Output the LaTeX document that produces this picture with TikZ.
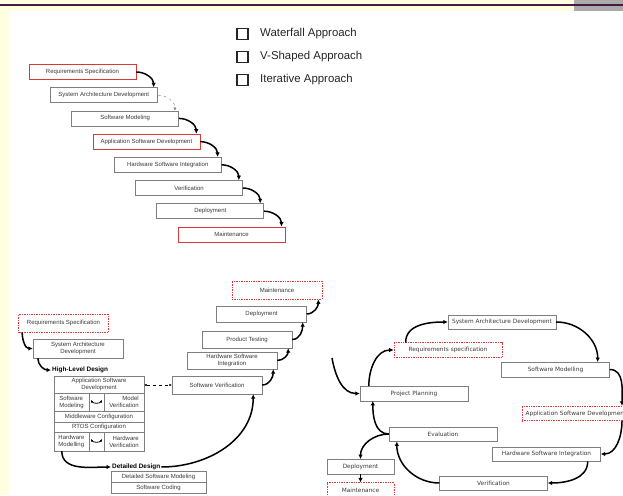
\documentclass[tikz,border=0pt]{standalone}
\usepackage{fontspec}
\setmainfont{Liberation Sans}
\newfontfamily\iterfont{DejaVu Sans}
\usetikzlibrary{arrows.meta,positioning}
\definecolor{paper}{HTML}{FFFFE0}
\definecolor{rulebar}{HTML}{4A1A46}
\definecolor{tabgray}{HTML}{ABABAB}
\definecolor{frame}{HTML}{7F7F7F}
\definecolor{mark}{HTML}{D83A3A}
\definecolor{txt}{HTML}{3A3A3A}

\begin{document}
\begin{tikzpicture}[x=1pt,y=1pt,>=Latex,
  small/.style={font=\fontsize{6}{7}\selectfont,text=txt},
  stage/.style={small,draw=frame,fill=white,minimum width=107pt,minimum height=15pt,inner sep=0pt,align=center},
  vstage/.style={stage,minimum width=90pt,minimum height=18pt},
  istage/.style={draw=frame,fill=white,text=txt,minimum width=108pt,minimum height=14.5pt,inner sep=0pt,font=\iterfont\fontsize{5.8}{7}\selectfont},
  redline/.style={draw=mark,densely dotted,line width=0.7pt},
  flow/.style={line width=1.5pt,-{Latex[length=4.5pt,width=4.5pt]}},
  checkbox/.style={draw=black!85,line width=1.4pt,minimum size=11pt,inner sep=0pt}]
\useasboundingbox (0,0) rectangle (623,495);
\clip (0,0) rectangle (623,495);
% slide background
\fill[paper] (0,0) rectangle (623,495);
\fill[white] (9,0) rectangle (623,484);
\fill[tabgray] (574,484) rectangle (623,495);
\fill[rulebar] (0,489) rectangle (623,491);

% legend
\node[checkbox] (kwf) at (242.5,461) {};
\node[checkbox] (kvs) at (242.5,438) {};
\node[checkbox] (kit) at (242.5,415) {};
\node[right=8pt of kwf,font=\fontsize{11.4}{13}\selectfont,text=black!85] (lwf) {Waterfall Approach};
\node[right=8pt of kvs,font=\fontsize{11.4}{13}\selectfont,text=black!85] (lvs) {V-Shaped Approach};
\node[right=8pt of kit,font=\fontsize{11.4}{13}\selectfont,text=black!85] (lit) {Iterative Approach};

% waterfall
\foreach \nm/\txt/\col [count=\i from 0] in {
  wreq/Requirements Specification/mark,
  warch/System Architecture Development/frame,
  wmod/Software Modeling/frame,
  wasd/Application Software Development/mark,
  whsi/Hardware Software Integration/frame,
  wver/Verification/frame,
  wdep/Deployment/frame,
  wmnt/Maintenance/mark} {
  \node[stage,draw=\col,line width=0.7pt] (\nm) at (82.5+21.3*\i,423-23.2*\i) {\txt};
}
\foreach \a/\b in {wreq/warch,wmod/wasd,wasd/whsi,whsi/wver,wver/wdep,wdep/wmnt} {
  \draw[flow] (\a.east) to[out=0,in=90] ([xshift=-4pt]\b.north east);
}
\draw[thin,dashed,frame,-{Latex[length=3pt,width=3pt]}] (warch.east) to[out=0,in=90] ([xshift=-4pt]wmod.north east);

% V-shaped
\node[vstage,redline] (vreq) at (63.5,172) {Requirements Specification};
\node[vstage,minimum height=19pt] (varch) at (78,146.5) {System Architecture\\Development};
\node[small,font=\fontsize{6.4}{7.4}\selectfont\bfseries,text=black,anchor=west,inner sep=1pt] (hld) at (51,125) {High-Level Design};
\node[draw=frame,fill=white,minimum width=90pt,minimum height=75pt,inner sep=0pt] (vtab) at (99,81.5) {};
\draw[frame] (54,102) -- (144,102) (54,84) -- (144,84) (54,73) -- (144,73) (54,63) -- (144,63);
\draw[frame] (89,102) -- (89,84) (104,102) -- (104,84) (89,63) -- (89,44) (104,63) -- (104,44);
\node[small,align=center] (casd) at (99,110.5) {Application Software\\Development};
\node[small,align=left] (csm) at (71.5,93) {Software\\Modeling};
\node[small,align=right] (cmv) at (124,93) {Model\\Verification};
\node[small] (cmw) at (99,78.5) {Middleware Configuration};
\node[small] (crt) at (99,68) {RTOS Configuration};
\node[small,align=left] (chm) at (71.5,53.5) {Hardware\\Modelling};
\node[small,align=right] (chv) at (124,53.5) {Hardware\\Verification};
\draw[thick,<->,>={Latex[length=2.5pt,width=2.5pt]}] (91,95) to[out=-60,in=-120] (102,95);
\draw[thick,<->,>={Latex[length=2.5pt,width=2.5pt]}] (91,56) to[out=-60,in=-120] (102,56);
\node[small,font=\fontsize{6.4}{7.4}\selectfont\bfseries,text=black,anchor=west,inner sep=1pt] (dd) at (111,28) {Detailed Design};
\node[draw=frame,fill=white,minimum width=95pt,minimum height=22pt,inner sep=0pt] (vdet) at (158.5,13) {};
\draw[frame] (vdet.west) -- (vdet.east);
\node[small] (cdsm) at (158.5,18.5) {Detailed Software Modeling};
\node[small] (csc) at (158.5,7.5) {Software Coding};
\node[vstage] (vsv) at (217,110) {Software Verification};
\node[vstage,minimum height=17pt] (vhsi) at (232,134.5) {Hardware Software\\Integration};
\node[vstage,minimum height=17pt] (vpt) at (247,155.5) {Product Testing};
\node[vstage,minimum height=16pt] (vdep) at (261.5,181) {Deployment};
\node[vstage,redline] (vmnt) at (277,205) {Maintenance};
\draw[flow] ([xshift=4pt]vreq.south west) to[out=-90,in=180] (varch.west);
\draw[flow] ([xshift=5pt]varch.south west) to[out=-90,in=180] (hld.west);
\draw[flow] ([xshift=8pt]vtab.south west) to[out=-90,in=180] (dd.west);
\draw[flow] (dd.east) to[out=0,in=-90] ([xshift=-9pt]vsv.south east);
\foreach \a/\b in {vsv/vhsi,vhsi/vpt,vpt/vdep,vdep/vmnt} {
  \draw[flow] (\a.east) to[out=0,in=-90] ([xshift=-4pt]\b.south east);
}
\draw[thin,dashed,<->,>={Latex[length=2.5pt,width=2.5pt]}] (vsv.west -| vtab.east) -- (vsv.west);

% iterative
\node[istage] (isad) at (502,173) {System Architecture Development};
\node[istage,redline] (ireq) at (448,145) {Requirements specification};
\node[istage] (ism) at (555.5,125.5) {Software Modelling};
\node[istage] (ipp) at (414,101.5) {Project Planning};
\node[istage,redline] (iasd) at (576,81.5) {Application Software Development};
\node[istage] (ieval) at (443,61) {Evaluation};
\node[istage] (ihsi) at (546.5,41) {Hardware Software Integration};
\node[istage,minimum width=67pt] (idep) at (360.5,28.5) {Deployment};
\node[istage] (iver) at (493.5,12) {Verification};
\node[istage,redline,minimum width=67pt] (imnt) at (360.5,5) {Maintenance};
\coordinate (istart) at (332,137);
\draw[flow] (istart) to[out=-80,in=180] (ipp.west);
\draw[flow] ([xshift=9pt]ipp.north west) to[out=90,in=180] (ireq.west);
\draw[flow] ([xshift=12pt]ireq.north west) to[out=90,in=180] (isad.west);
\draw[flow] (isad.east) to[out=0,in=90] ([xshift=-12pt]ism.north east);
\draw[flow] (ism.east) to[out=0,in=90] ([xshift=46pt]iasd.north);
\draw[flow] ([xshift=46pt]iasd.south) to[out=-90,in=0] (ihsi.east);
\draw[flow] ([xshift=-13pt]ihsi.south east) to[out=-90,in=0] (iver.east);
\draw[flow] (iver.west) to[out=180,in=-90] ([xshift=8pt]ieval.south west);
\draw[flow] (ieval.west) to[out=180,in=-90] ([xshift=13pt]ipp.south west);
\draw[flow] (ieval.west) to[out=180,in=90] (idep.north);
\draw[flow] (idep.south) -- (imnt.north);
\end{tikzpicture}
\end{document}
